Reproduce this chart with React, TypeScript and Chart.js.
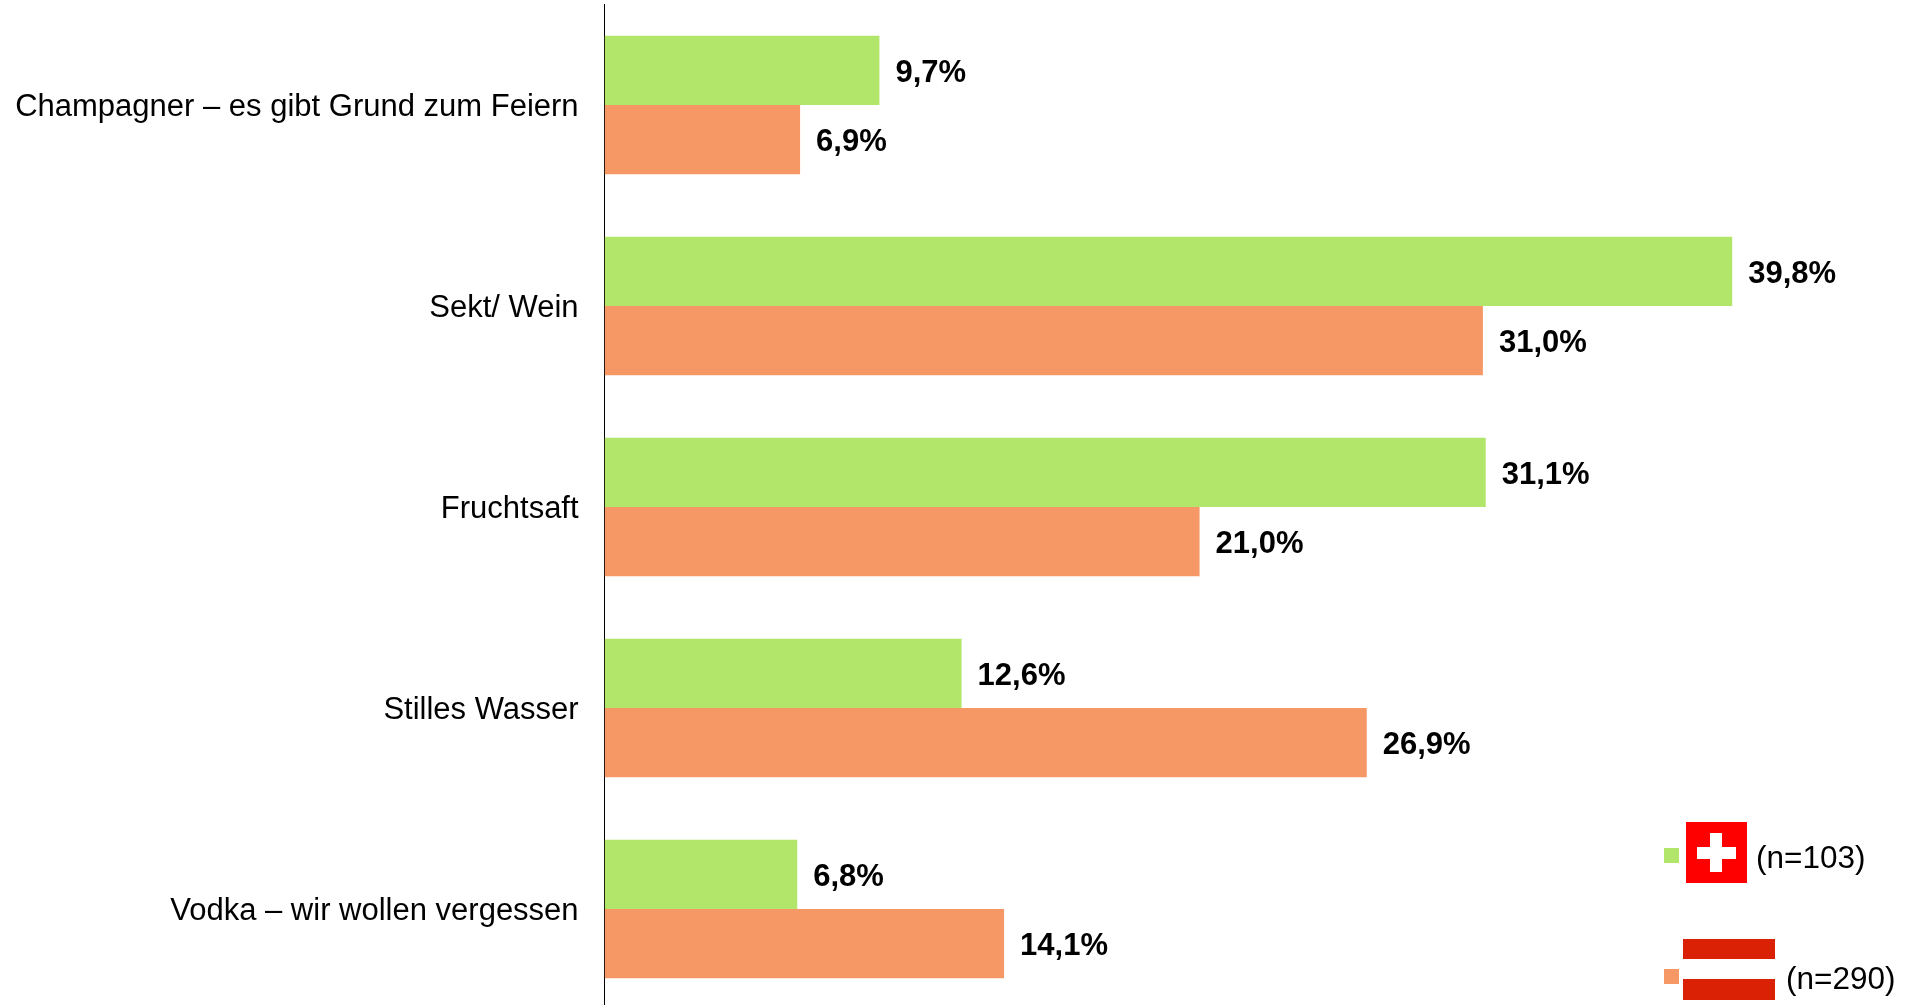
import React, { useEffect, useRef } from "react";
import { Chart, registerables } from "chart.js";

Chart.register(...registerables);

const categories = [
  "Champagner – es gibt Grund zum Feiern",
  "Sekt/ Wein",
  "Fruchtsaft",
  "Stilles Wasser",
  "Vodka – wir wollen vergessen",
];
const swissValues = [9.7, 39.8, 31.1, 12.6, 6.8];
const austriaValues = [6.9, 31.0, 21.0, 26.9, 14.1];
const swissName = "(n=103)";
const austriaName = "(n=290)";
const GREEN = "#B2E66A";
const ORANGE = "#F69865";
const FONT = '"Liberation Sans", Arial, sans-serif';

const valueLabels = {
  id: "valueLabels",
  afterDatasetsDraw(chart: any) {
    const { ctx } = chart;
    ctx.save();
    ctx.font = `bold 31px ${FONT}`;
    ctx.fillStyle = "#000";
    ctx.textAlign = "left";
    ctx.textBaseline = "middle";
    chart.data.datasets.forEach((ds: any, i: number) => {
      chart.getDatasetMeta(i).data.forEach((bar: any, j: number) => {
        const text = ds.data[j].toFixed(1).replace(".", ",") + "%";
        ctx.fillText(text, bar.x + 16, bar.y + 3);
      });
    });
    ctx.restore();
  },
};

const box = (left: number, top: number, width: number, height: number, background: string): React.CSSProperties => ({
  position: "absolute",
  left,
  top,
  width,
  height,
  background,
});

const legendText = (left: number, top: number): React.CSSProperties => ({
  position: "absolute",
  left,
  top,
  font: `31.5px ${FONT}`,
  lineHeight: "34px",
  color: "#000",
  whiteSpace: "nowrap",
});

export default function App() {
  const ref = useRef<HTMLCanvasElement>(null);
  useEffect(() => {
    const chart = new Chart(ref.current!, {
      type: "bar",
      data: {
        labels: categories,
        datasets: [
          { label: swissName, data: swissValues, backgroundColor: GREEN },
          { label: austriaName, data: austriaValues, backgroundColor: ORANGE },
        ],
      },
      plugins: [valueLabels],
      options: {
        indexAxis: "y",
        animation: false,
        responsive: false,
        maintainAspectRatio: false,
        layout: { padding: { top: 4.5, right: 0, bottom: 0.5, left: 0 }, autoPadding: false },
        datasets: { bar: { categoryPercentage: 0.689, barPercentage: 1 } },
        plugins: { legend: { display: false }, tooltip: { enabled: false } },
        scales: {
          x: { display: false, min: 0, max: 46.11 },
          y: {
            z: 1,
            afterFit(scale: any) {
              scale.width = 604.6;
              scale.paddingTop = 0;
              scale.paddingBottom = 0;
            },
            grid: { display: false, drawTicks: false },
            border: { display: true, color: "#000", width: 1 },
            ticks: {
              color: "#000",
              padding: 26,
              labelOffset: 2,
              font: { family: FONT, size: 31 },
            },
          },
        },
      },
    } as any);
    return () => chart.destroy();
  }, []);
  return (
    <div style={{ position: "fixed", left: 0, top: 0, width: 1911, height: 1005, background: "#fff", overflow: "hidden" }}>
      <canvas ref={ref} width={1911} height={1010} style={{ display: "block" }} />
      <div style={box(1664, 848, 15, 15, GREEN)} />
      <div style={box(1686, 822, 61, 61, "#FF0000")} />
      <div style={box(1697, 847, 39, 12, "#FFFFFF")} />
      <div style={box(1710, 833, 12, 39, "#FFFFFF")} />
      <div style={legendText(1756, 840)}>{swissName}</div>
      <div style={box(1664, 969, 15, 15, ORANGE)} />
      <div style={box(1683, 939, 92, 20, "#DA2106")} />
      <div style={box(1683, 979, 92, 21, "#DA2106")} />
      <div style={legendText(1786, 961)}>{austriaName}</div>
    </div>
  );
}
